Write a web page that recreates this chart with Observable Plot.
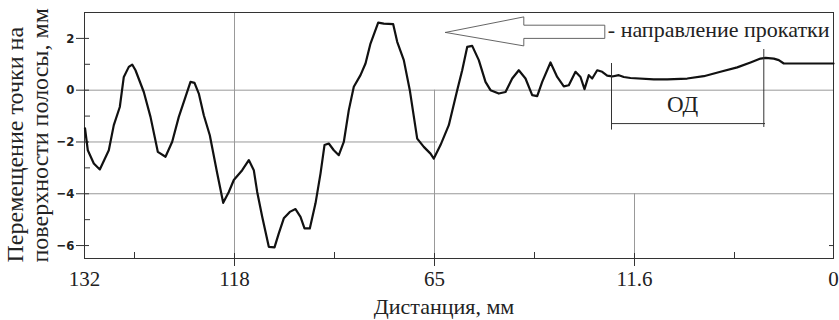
<!DOCTYPE html>
<html>
<head>
<meta charset="utf-8">
<script src="https://cdn.jsdelivr.net/npm/d3@7"></script>
<script src="https://cdn.jsdelivr.net/npm/@observablehq/plot@0.6"></script>
<style>
  html, body { margin: 0; padding: 0; background: #fff; }
  #chart svg { display: block; background: #fff; }
  #chart svg text { font-family: 'Liberation Serif', 'Times New Roman', serif; }
  #chart svg g[aria-label="y-axis tick label"] text {
    font-family: 'DejaVu Sans Condensed', 'DejaVu Sans', sans-serif; font-weight: bold; font-size: 13px;
  }
</style>
</head>
<body>
<div id="chart"></div>
<script>
// Position along the strip (plot units, left edge = 0) and surface displacement, mm
const posU = [0.5, 3.3, 9.3, 15.3, 24.3, 29.3, 35.3, 39.3, 44.3, 47.7, 51, 59.3, 66, 73.3, 81, 87.7, 94.3, 101, 106, 110,
  114.3, 119.3, 125.3, 132.7, 138.7, 144.3, 149.3, 157.7, 164.3, 169.3, 172.7, 177.7, 184.3, 190, 194.3, 199.3, 205.3, 211, 216, 220,
  225.3, 231, 236, 240, 244.3, 249.3, 254.3, 259.3, 264.3, 269.3, 276, 281, 286, 293.7, 299.3, 308.7, 312.7, 319.3, 325.3, 332.7,
  339.3, 346, 349.3, 356, 364.3, 372.7, 377.7, 382.7, 387.7, 394.3, 401, 406, 414.3, 421, 427.7, 434.3, 441, 447.7, 452.7, 457.7,
  466, 472.7, 479.3, 484.3, 491, 496, 500, 504.3, 507.7, 512.7, 517.7, 522.7, 527.7, 534.3, 539.3, 546, 569.3, 582.7, 602.7, 619.3,
  636, 652.7, 666, 676, 681, 689.3, 694.3, 699.3, 716, 749];
const displacement = [-1.47, -2.32, -2.83, -3.06, -2.32, -1.35, -0.65, 0.51, 0.90, 0.99, 0.77, -0.07, -1.03, -2.38, -2.57, -1.99, -1.03, -0.26, 0.32, 0.28,
  -0.13, -0.97, -1.74, -3.21, -4.35, -3.93, -3.47, -3.09, -2.70, -3.09, -3.93, -4.89, -6.05, -6.07, -5.53, -4.95, -4.70, -4.59, -4.89, -5.34,
  -5.34, -4.37, -3.22, -2.12, -2.06, -2.32, -2.51, -2.00, -0.77, 0.13, 0.58, 1.03, 1.80, 2.61, 2.57, 2.55, 1.87, 1.16, 0.00, -1.87,
  -2.19, -2.45, -2.64, -2.12, -1.35, 0.00, 0.77, 1.67, 1.71, 1.16, 0.32, 0.00, -0.13, -0.07, 0.45, 0.77, 0.45, -0.19, -0.23, 0.32,
  1.07, 0.51, 0.15, 0.19, 0.71, 0.51, 0.04, 0.58, 0.45, 0.77, 0.71, 0.56, 0.53, 0.58, 0.51, 0.47, 0.42, 0.42, 0.45, 0.54,
  0.71, 0.88, 1.07, 1.22, 1.25, 1.22, 1.16, 1.03, 1.03, 1.03];

// Axes
const xDomain = [0, 749];
const yDomain = [-6.5, 3];
const xLabelPos = [0, 150, 350, 550, 749];
const xLabels = ["132", "118", "65", "11.6", "0"];
const xLabelAnchor = ["start", "middle", "middle", "middle", "end"];
const xMajor = [150, 350, 550];
const xMinor = [50, 250, 450, 650];
const yMajor = [-6, -4, -2, 0, 2];
const yMinor = [-5, -3, -1, 1];

// Grid segments
const gridYFull = [0, -4];
const gridYPart = [{y: -2, x1: 0, x2: 353}];
const gridX = [{x: 150, y1: 3, y2: -6.5}, {x: 350, y1: 0, y2: -6.5}, {x: 550, y1: -4, y2: -6.5}];

// Rolling direction arrow outline
const arrowU = [361, 439.3, 439.3, 520.3, 520.3, 439.3, 439.3, 361];
const arrowV = [2.23, 2.83, 2.51, 2.51, 2.0, 2.0, 1.71, 2.23];
const arrowText = "- направление прокатки";

// Deformation zone (ОД) bracket
const odLeft = {x: 527, y1: 1.03, y2: -1.54};
const odRight = {x: 679.3, y1: 1.57, y2: -1.44};
const odBar = {y: -1.29, x1: 527, x2: 681};
const odLabel = {x: 598, y: -0.84, text: "ОД"};

const yTitle = "Перемещение точки на\nповерхности полосы, мм";
const xTitle = "Дистанция, мм";

const series = posU.map((u, i) => ({u, v: displacement[i]}));
const arrow = arrowU.map((u, i) => ({u, v: arrowV[i]}));
const xTicks = xLabelPos.map((u, i) => ({u, label: xLabels[i], anchor: xLabelAnchor[i]}));

const ink = "#222";
const serif = "'Liberation Serif', 'Times New Roman', serif";

const chart = Plot.plot({
  width: 839,
  height: 320,
  marginLeft: 84,
  marginRight: 6,
  marginTop: 12,
  marginBottom: 62,
  x: {domain: xDomain},
  y: {domain: yDomain},
  style: "background: #fff; color: #222; font-family: 'Liberation Serif', serif;",
  marks: [
    Plot.ruleY(gridYFull, {stroke: "#999", strokeWidth: 1}),
    Plot.ruleY(gridYPart, {y: "y", x1: "x1", x2: "x2", stroke: "#999", strokeWidth: 1}),
    Plot.ruleX(gridX, {x: "x", y1: "y1", y2: "y2", stroke: "#999", strokeWidth: 1}),
    Plot.frame({stroke: "#333", strokeWidth: 1}),
    // y ticks
    Plot.axisY(yMajor, {anchor: "left", tickSize: 13, dx: 5, fill: "none", stroke: "#333", label: null}),
    Plot.axisY(yMinor, {anchor: "left", tickSize: 6, dx: 6, fill: "none", stroke: "#333", label: null}),
    Plot.axisY([-6], {anchor: "right", tickSize: 5, dx: -5, fill: "none", stroke: "#333", label: null}),
    Plot.axisY(yMajor, {anchor: "left", tickSize: 8, tickPadding: 2, stroke: "none", fill: ink,
      fontSize: 13, fontWeight: "bold", label: null}),
    // x ticks
    Plot.axisX(xMajor, {anchor: "bottom", tickSize: 13, dy: -5, fill: "none", stroke: "#333", label: null}),
    Plot.axisX(xMinor, {anchor: "bottom", tickSize: 6, dy: -6, fill: "none", stroke: "#333", label: null}),
    Plot.text(xTicks, {x: "u", text: "label", textAnchor: d => d.anchor, frameAnchor: "bottom",
      lineAnchor: "bottom", dy: 27, fontSize: 21, fontFamily: serif, fill: ink}),
    // axis titles
    Plot.text([yTitle], {frameAnchor: "bottom-left", rotate: -90, textAnchor: "start", lineAnchor: "bottom",
      lineHeight: 1.04, dx: -37, dy: 4, fontSize: 24, fontFamily: serif, fill: ink}),
    Plot.text([xTitle], {frameAnchor: "bottom", lineAnchor: "bottom", dx: -15, dy: 55, fontSize: 22, fontFamily: serif, fill: ink}),
    // data line
    Plot.line(series, {x: "u", y: "v", stroke: "#111", strokeWidth: 2.2, strokeLinejoin: "round"}),
    // arrow annotation
    Plot.line(arrow, {x: "u", y: "v", stroke: "#555", strokeWidth: 0.9, fill: "#fff"}),
    Plot.text([arrowText], {x: arrowU[3], y: 2.05, dx: 3, textAnchor: "start", lineAnchor: "bottom",
      fontSize: 22, fontFamily: serif, fill: ink}),
    // ОД bracket
    Plot.ruleX([odLeft, odRight], {x: "x", y1: "y1", y2: "y2", stroke: "#333", strokeWidth: 1}),
    Plot.ruleY([odBar], {y: "y", x1: "x1", x2: "x2", stroke: "#333", strokeWidth: 1}),
    Plot.text([odLabel], {x: "x", y: "y", text: "text", lineAnchor: "bottom",
      fontSize: 23, fontFamily: serif, fill: ink})
  ]
});
document.getElementById("chart").appendChild(chart);
</script>
</body>
</html>
